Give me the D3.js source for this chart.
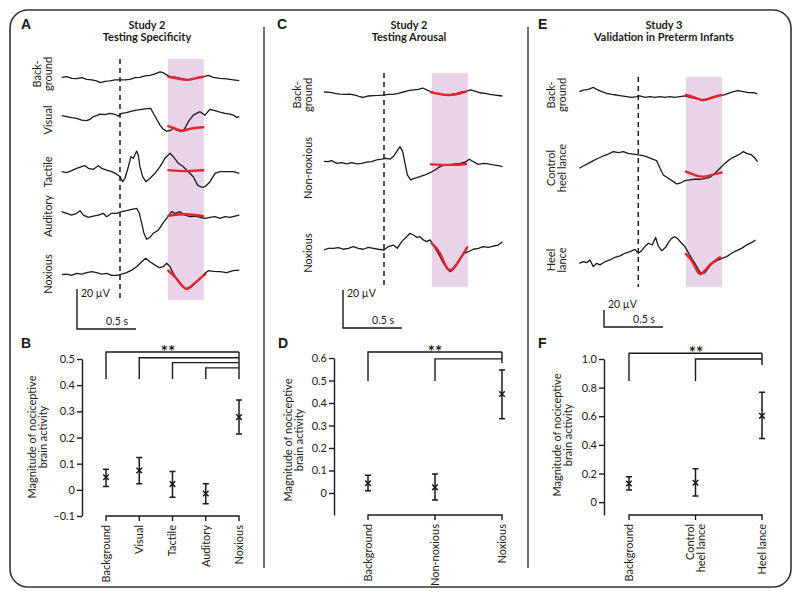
<!DOCTYPE html>
<html>
<head>
<meta charset="utf-8">
<script src="https://cdn.jsdelivr.net/npm/d3@7"></script>
<style>
  body { margin: 0; background: #fff; }
  svg { font-family: Lato, "Open Sans", sans-serif; }
</style>
</head>
<body>
<svg id="fig" width="800" height="597"></svg>
<script>
// ---- EEG traces, [time ms, amplitude µV] ----
const traceA_bg = [[-494,0],[-452,0.3],[-410,-0.5],[-367,-0.7],[-325,-0.2],[-282,-1],[-240,-1.3],[-198,-1.8],[-169,-2.7],[-127,-2],[-85,-1.8],[-42,-1.3],[0,-1.3],[42,-1.3],[85,-1],[127,-0.2],[169,0],[212,0.7],[254,1],[297,1.7],[339,2.7],[367,2.3],[395,1.2],[424,0.3],[480,0],[537,-0.8],[579,-1.3],[621,-0.7],[678,0],[712,0.3],[749,1],[791,0],[847,-0.5],[904,-0.8],[960,-1.3],[1011,-1.7]];
const traceA_visual = [[-494,0],[-452,-0.5],[-410,-1],[-367,-1.3],[-325,-2.2],[-282,-2.5],[-254,-1.8],[-226,-0.5],[-198,0],[-169,0.8],[-127,0.5],[-85,1.2],[-42,0.7],[-14,-0.2],[14,1.2],[56,1.5],[99,2.3],[141,2.8],[184,3.2],[226,3.5],[260,3.7],[282,1.2],[311,-1.8],[339,-4.7],[367,-6.8],[395,-7.7],[424,-7.5],[452,-6.3],[480,-7.2],[523,-8],[551,-6.3],[579,-3],[621,0.3],[678,2],[720,0.3],[763,3.2],[805,2.5],[847,1.8],[890,1.2],[932,0.8],[960,0.3],[989,-0.8],[1011,-0.5]];
const traceA_tactile = [[-494,0],[-452,-0.5],[-410,0.5],[-367,1.7],[-325,2.5],[-297,3],[-268,1.7],[-226,1.2],[-184,3],[-155,1.7],[-113,0.8],[-71,0],[-28,-1.2],[0,-2.5],[23,-5],[42,-3.3],[71,2.5],[93,7.5],[113,6.7],[141,10.3],[155,8.3],[169,2.5],[192,-2.5],[220,-5],[254,-3.3],[297,-0.8],[339,2.5],[381,6.7],[424,9.2],[452,7.5],[494,4.2],[537,2.5],[579,0],[621,-2.5],[658,-6.7],[692,-7.8],[720,-7.5],[763,-5],[805,-0.8],[847,0],[904,0],[960,0],[1011,-0.8]];
const traceA_auditory = [[-494,0],[-452,-0.8],[-410,-1.7],[-367,-0.8],[-339,0.5],[-311,-1.7],[-268,-2.8],[-226,-2.2],[-184,-1.7],[-141,-0.8],[-113,-2.5],[-71,-0.8],[-28,-0.8],[14,0],[56,0.5],[99,1.2],[141,1.7],[164,-0.8],[184,-5.8],[203,-10.8],[226,-13.8],[254,-12.8],[282,-10.8],[325,-9.2],[367,-5.5],[410,-2.2],[438,0],[466,-0.8],[508,0],[551,-1.7],[593,-2.5],[636,-2.2],[678,-2.8],[720,-3.3],[763,-2.8],[805,-2.5],[847,-3.3],[890,-2.5],[932,-2.8],[975,-2.2],[1011,-1.7]];
const traceA_noxious = [[-494,0],[-452,0.3],[-410,-0.3],[-367,0.7],[-325,0.3],[-282,1],[-240,1.5],[-198,1],[-155,0.3],[-113,0.7],[-71,-0.3],[-28,-0.3],[14,0.3],[56,1],[99,2.3],[141,4],[184,6.5],[218,8.2],[254,6.5],[297,4.8],[333,3.5],[367,4],[395,5.7],[424,4],[452,0.7],[494,-3.5],[537,-6.3],[565,-7.3],[607,-6],[650,-3.5],[692,-1],[720,0.7],[749,2],[791,1.7],[847,1.5],[904,1],[960,2],[1011,2.3]];

const traceC_bg = [[-508,0],[-458,-0.2],[-415,-0.7],[-373,-1.1],[-331,-1.2],[-288,-1.1],[-246,-1.6],[-203,-2.5],[-175,-2.8],[-133,-2.1],[-90,-1.9],[-48,-1.8],[-6,-1.6],[37,-1.2],[79,-1.2],[121,-0.7],[164,0],[206,0.7],[249,1.1],[291,1.4],[328,2.1],[362,1.1],[404,0],[446,-0.7],[489,-1.4],[531,-1.6],[573,-1.2],[616,-0.7],[658,0],[701,0.5],[734,1.1],[771,0.4],[814,-0.4],[856,-0.7],[898,-1.2],[941,-1.6],[1003,-2.1]];
const traceC_nonnox = [[-508,0],[-472,-0.2],[-444,0.4],[-401,-1.1],[-359,-0.7],[-316,-1.4],[-274,-0.7],[-232,-1.4],[-189,-1.1],[-147,-0.4],[-105,-0.2],[-62,0.7],[-20,1.1],[17,1.6],[51,1.1],[79,2.5],[107,5.1],[136,7.7],[158,5.1],[178,-1.1],[198,-7.2],[226,-9.8],[263,-8.9],[305,-8.1],[347,-7.2],[390,-6],[432,-4.6],[475,-2.8],[517,-1.9],[559,-1.9],[602,-1.4],[644,-1.1],[686,-0.5],[723,1.1],[757,-0.2],[799,-1.6],[842,-1.1],[884,-1.4],[927,-1.9],[969,-2.3],[1003,-2.8]];
const traceC_noxious = [[-508,0],[-472,0.9],[-429,0.9],[-387,1.2],[-345,0.4],[-302,0.9],[-260,1.8],[-218,0.9],[-175,0.4],[-133,1.4],[-90,0.9],[-48,0.4],[0,0],[37,1.8],[79,2.6],[113,0.9],[150,4.4],[192,7],[220,8.8],[249,7.9],[277,6.7],[305,7],[333,5.3],[362,4.4],[390,5.3],[418,2.6],[460,-1.8],[497,-6.1],[531,-9.6],[559,-11.4],[588,-10.2],[616,-7.9],[644,-4.4],[678,-1.8],[715,-0.9],[757,0.4],[799,0.9],[842,1.8],[884,1.4],[927,2.1],[969,2.6],[1003,4.4]];

const traceE_bg = [[-500,0],[-466,1.9],[-424,2.7],[-381,5.0],[-353,2.7],[-311,0],[-268,-1.9],[-226,-3.1],[-184,-3.9],[-141,-5.0],[-99,-5.8],[-56,-6.7],[-14,-5.8],[14,-5.0],[56,-6.7],[99,-5.8],[141,-6.7],[184,-5.8],[226,-6.7],[268,-5.8],[311,-6.7],[353,-5.8],[395,-5.0],[438,-6.7],[480,-7.9],[523,-9.1],[551,-10.6],[593,-9.1],[636,-6.7],[678,-5.0],[720,-3.9],[763,-1.9],[805,0],[847,1.2],[890,0],[932,-1.2],[975,-1.2],[1011,-2.7]];
const traceE_control = [[-500,0],[-466,2.7],[-424,5.8],[-381,9.1],[-339,11.8],[-297,14.5],[-254,16.8],[-212,19.7],[-169,18.4],[-127,19.7],[-85,17.6],[-42,16.8],[0,15.7],[42,14.9],[85,12.9],[127,10.6],[155,9.1],[184,0],[212,-7.9],[254,-11.8],[297,-15.7],[325,-18.4],[353,-17.6],[395,-14.5],[438,-13.7],[480,-12.9],[523,-12.9],[565,-11.8],[607,-10.6],[650,-5.8],[692,0],[734,5.8],[777,10.6],[819,13.7],[862,16.8],[890,19.7],[918,17.6],[960,15.7],[989,11.8],[1011,7.9]];
const traceE_heel = [[-500,0],[-466,1.9],[-438,0.8],[-410,3.9],[-381,-3.9],[-353,0],[-325,-1.9],[-282,1.9],[-240,3.9],[-198,7.1],[-155,8.7],[-113,11.8],[-71,13.7],[-28,16.4],[0,11.8],[28,14.9],[56,19.7],[85,23.6],[119,21.6],[147,30.5],[169,20.4],[198,14.9],[232,18.8],[260,25.5],[282,29.4],[311,31.3],[339,28.2],[367,23.6],[395,19.7],[424,12.6],[452,5.8],[480,0],[508,-7.1],[537,-12.6],[565,-11.0],[593,-5.8],[621,-0.8],[664,3.1],[706,5.8],[749,7.9],[791,11.8],[833,14.9],[876,17.6],[918,21.6],[960,24.3],[994,27.4]];

// ---- template fits inside the nociceptive window ----
const fitA_bg = [[410,0.3],[490,-0.6],[565,-1.3],[640,-0.5],[706,0.3]];
const fitA_visual = [[410,-5.2],[470,-6.5],[525,-7.5],[590,-6.6],[650,-6.0],[706,-5.8]];
const fitA_tactile = [[410,0.8],[560,0.3],[706,0.7]];
const fitA_auditory = [[410,-2.0],[560,-1.3],[706,-2.2]];
const fitA_noxious = [[410,2],[480,-2],[550,-6.8],[610,-5.5],[680,-1.8],[725,0.3]];
const fitC_bg = [[398,-0.2],[480,-1.1],[560,-1.6],[640,-0.8],[695,0.2]];
const fitC_nonnox = [[398,-1.6],[560,-1.9],[695,-1.4]];
const fitC_noxious = [[404,3.5],[475,-1.8],[545,-10.2],[620,-7],[706,1.4]];
const fitE_bg = [[404,-3.9],[480,-7.1],[545,-9.8],[620,-7.1],[706,-3.9]];
const fitE_control = [[404,-3.9],[480,-7.9],[550,-9.8],[620,-7.8],[706,-5.0]];
const fitE_heel = [[404,11.0],[466,0],[523,-12.6],[593,-3.9],[692,7.1]];

const windowMs = [405, 710];

// ---- group means with error bars ----
const catsB = ["Background", "Visual", "Tactile", "Auditory", "Noxious"];
const meanB = [0.048, 0.074, 0.022, -0.014, 0.278];
const loB   = [0.013, 0.023, -0.028, -0.053, 0.213];
const hiB   = [0.079, 0.124, 0.07, 0.023, 0.343];
const ticksB = [-0.1, 0, 0.1, 0.2, 0.3, 0.4, 0.5];

const catsD = ["Background", "Non-noxious", "Noxious"];
const meanD = [0.043, 0.025, 0.44];
const loD   = [0.01, -0.031, 0.33];
const hiD   = [0.079, 0.084, 0.547];
const ticksD = [0, 0.1, 0.2, 0.3, 0.4, 0.5, 0.6];

const catsF = [["Background"], ["Control", "heel lance"], ["Heel lance"]];
const meanF = [0.13, 0.135, 0.603];
const loF   = [0.084, 0.042, 0.445];
const hiF   = [0.177, 0.233, 0.767];
const ticksF = [0, 0.2, 0.4, 0.6, 0.8, 1.0];

const svg = d3.select('#fig');
const INK = '#1a1a1a';

// outer frame + dividers
svg.append('rect').attr('x', 10).attr('y', 10).attr('width', 781).attr('height', 577)
  .attr('rx', 18).attr('fill', 'none').attr('stroke', '#333').attr('stroke-width', 1.6);
[264, 528].forEach(x => svg.append('line').attr('x1', x).attr('x2', x).attr('y1', 27).attr('y2', 568)
  .attr('stroke', '#333').attr('stroke-width', 1.4));

const topPanels = [
  { letter: 'A', lx: 21, title: ['Study 2', 'Testing Specificity'], tx: 147, x0: 120, k: 2.0, band: [59, 300],
    labelX: 48, bar: { x: 77, y: 329, dy: 8 },
    rows: [
      { label: ['Back-', 'ground'], ly: 74, y: 77.3, data: traceA_bg, fit: fitA_bg },
      { label: ['Visual'], ly: 120, y: 115.7, data: traceA_visual, fit: fitA_visual },
      { label: ['Tactile'], ly: 172, y: 171.7, data: traceA_tactile, fit: fitA_tactile },
      { label: ['Auditory'], ly: 216, y: 211.7, data: traceA_auditory, fit: fitA_auditory },
      { label: ['Noxious'], ly: 274, y: 274.7, data: traceA_noxious, fit: fitA_noxious }
    ] },
  { letter: 'C', lx: 277, title: ['Study 2', 'Testing Arousal'], tx: 409, x0: 384, k: 1.9, band: [73, 287],
    labelX: 308, bar: { x: 343, y: 328, dy: 7 },
    rows: [
      { label: ['Back-', 'ground'], ly: 95, y: 92, data: traceC_bg, fit: fitC_bg },
      { label: ['Non-noxious'], ly: 168, y: 161.3, data: traceC_nonnox, fit: fitC_nonnox },
      { label: ['Noxious'], ly: 253, y: 250, data: traceC_noxious, fit: fitC_noxious }
    ] },
  { letter: 'E', lx: 538, title: ['Study 3', 'Validation in Preterm Infants'], tx: 664, x0: 638.3, k: 0.85, band: [77, 287],
    labelX: 562, bar: { x: 604, y: 327, dy: -2 },
    rows: [
      { label: ['Back-', 'ground'], ly: 95, y: 91.7, data: traceE_bg, fit: fitE_bg },
      { label: ['Control', 'heel lance'], ly: 168, y: 168.3, data: traceE_control, fit: fitE_control },
      { label: ['Heel', 'lance'], ly: 260, y: 263.3, data: traceE_heel, fit: fitE_heel }
    ] }
];

function panelLetter(txt, x, y) {
  svg.append('text').attr('x', x).attr('y', y).attr('font-family', 'Liberation Sans, Arial, sans-serif')
    .attr('font-size', '14px').attr('font-weight', 'bold').attr('fill', INK).text(txt);
}

function rotLabel(lines, cx, cy, size) {
  const n = lines.length;
  lines.forEach((s, i) => {
    svg.append('text')
      .attr('transform', `translate(${cx - (n - 1 - i) * 10.5},${cy}) rotate(-90)`)
      .attr('text-anchor', 'middle').attr('dy', '0.35em')
      .attr('font-size', size).attr('fill', INK).text(s);
  });
}

function renderTraces(p) {
  panelLetter(p.letter, p.lx, 29);
  svg.append('text').attr('x', p.tx).attr('y', 29).attr('text-anchor', 'middle')
    .attr('font-size', '11px').attr('font-weight', 'bold').attr('fill', INK).text(p.title[0]);
  svg.append('text').attr('x', p.tx).attr('y', 41).attr('text-anchor', 'middle')
    .attr('font-size', '11px').attr('font-weight', 'bold').attr('fill', INK).text(p.title[1]);

  const x = d3.scaleLinear().domain([0, 1000]).range([p.x0, p.x0 + 118]);

  svg.append('rect').attr('x', x(windowMs[0])).attr('y', p.band[0])
    .attr('width', x(windowMs[1]) - x(windowMs[0])).attr('height', p.band[1] - p.band[0])
    .attr('fill', '#e8d3e9');

  svg.append('line').attr('x1', x(0)).attr('x2', x(0)).attr('y1', p.band[0]).attr('y2', p.band[1])
    .attr('stroke', INK).attr('stroke-width', 1.5).attr('stroke-dasharray', '5,4');

  p.rows.forEach(r => {
    const y = d3.scaleLinear().domain([0, 1]).range([r.y, r.y - p.k]);
    const line = d3.line().x(d => x(d[0])).y(d => y(d[1]));
    svg.append('path').datum(r.data).attr('d', line)
      .attr('fill', 'none').attr('stroke', INK).attr('stroke-width', 1.3).attr('stroke-linejoin', 'round');
    svg.append('path').datum(r.fit).attr('d', line.curve(d3.curveNatural))
      .attr('fill', 'none').attr('stroke', '#e5242b').attr('stroke-width', 2.4).attr('stroke-linecap', 'round');
    rotLabel(r.label, p.labelX, r.ly, '11px');
  });

  // scale bars: 20 µV and 0.5 s
  const bx = p.bar.x, by = p.bar.y, h = 20 * p.k, w = x(500) - x(0);
  svg.append('path').attr('d', `M${bx},${by - h}V${by}H${bx + w}`)
    .attr('fill', 'none').attr('stroke', INK).attr('stroke-width', 1.4);
  svg.append('text').attr('x', bx + 4).attr('y', by - h + p.bar.dy).attr('font-size', '10.5px').attr('fill', INK).text('20 µV');
  svg.append('text').attr('x', bx + w - 8).attr('y', by - 4).attr('text-anchor', 'end')
    .attr('font-size', '10.5px').attr('fill', INK).text('0.5 s');
}

topPanels.forEach(renderTraces);

const bottomPanels = [
  { letter: 'B', lx: 21, axisX: 82, domain: [-0.1, 0.5], range: [516, 359], ticks: ticksB, fmt: d3.format('.1f'),
    cats: catsB.map(c => [c]), catRange: [106, 239], mean: meanB, lo: loB, hi: hiB, ylabX: 43, ylabY: 437,
    sig: { levels: [0.527, 0.505, 0.486, 0.466], bottom: 0.424, rightBottom: 0.424, star: 168 } },
  { letter: 'D', lx: 278, axisX: 334, domain: [-0.098, 0.6], range: [515, 358], ticks: ticksD, fmt: d3.format('.1f'),
    cats: catsD.map(c => [c]), catRange: [368, 502], mean: meanD, lo: loD, hi: hiD, ylabX: 299, ylabY: 440,
    sig: { levels: [0.627, 0.596], bottom: 0.498, rightBottom: 0.578, star: 435 } },
  { letter: 'F', lx: 538, axisX: 604, domain: [-0.09, 1.0], range: [515, 359], ticks: ticksF, fmt: d3.format('.1f'),
    cats: catsF, catRange: [629, 762], mean: meanF, lo: loF, hi: hiF, ylabX: 568, ylabY: 435,
    sig: { levels: [1.04, 1.0], bottom: 0.846, rightBottom: 0.958, star: 696 } }
];

function renderMeans(p) {
  panelLetter(p.letter, p.lx, 348);
  const y = d3.scaleLinear().domain(p.domain).range(p.range);
  const x = d3.scalePoint().domain(d3.range(p.cats.length)).range(p.catRange);

  const ax = svg.append('g').attr('transform', `translate(${p.axisX},0)`)
    .call(d3.axisLeft(y).tickValues(p.ticks).tickSize(5).tickSizeOuter(0)
      .tickFormat(d => d === 0 ? '0' : p.fmt(d)));
  ax.select('.domain').attr('stroke', INK).attr('stroke-width', 1.4);
  ax.selectAll('.tick line').attr('stroke', INK).attr('stroke-width', 1.4);
  ax.selectAll('.tick text').attr('font-family', 'Lato, sans-serif').attr('font-size', '11px').attr('fill', INK).attr('x', -7);

  rotLabel(['Magnitude of nociceptive', 'brain activity'], p.ylabX, p.ylabY, '11px');

  // category bracket
  const xs = p.cats.map((c, i) => x(i));
  const yb = p.range[0];
  let dpath = `M${xs[0]},${yb + 5}V${yb}H${xs[xs.length - 1]}V${yb + 5}`;
  xs.slice(1, -1).forEach(v => { dpath += `M${v},${yb}V${yb + 5}`; });
  svg.append('path').attr('d', dpath).attr('fill', 'none').attr('stroke', INK).attr('stroke-width', 1.4);

  p.cats.forEach((lines, i) => {
    const n = lines.length;
    lines.forEach((s, j) => {
      svg.append('text')
        .attr('transform', `translate(${xs[i] + (j - (n - 1) / 2) * 10.5},${yb + 9}) rotate(-90)`)
        .attr('text-anchor', 'end').attr('dy', '0.35em')
        .attr('font-size', '11px').attr('fill', INK).text(s);
    });
  });

  // significance brackets
  const last = xs[xs.length - 1];
  let sp = `M${last},${y(p.sig.levels[0])}V${y(p.sig.rightBottom)}`;
  p.sig.levels.forEach((lv, i) => {
    sp += `M${xs[i]},${y(p.sig.bottom)}V${y(lv)}H${last}`;
  });
  svg.append('path').attr('d', sp).attr('fill', 'none').attr('stroke', INK).attr('stroke-width', 1.4);
  svg.append('text').attr('x', p.sig.star).attr('y', y(p.sig.levels[0]) + 6).attr('text-anchor', 'middle')
    .attr('font-size', '17px').attr('font-weight', 'bold').attr('fill', INK).text('**');

  // error bars + markers
  const g = svg.append('g');
  p.mean.forEach((m, i) => {
    const cx = xs[i];
    g.append('path').attr('d', `M${cx - 3},${y(p.hi[i])}H${cx + 3}M${cx},${y(p.hi[i])}V${y(p.lo[i])}M${cx - 3},${y(p.lo[i])}H${cx + 3}`)
      .attr('fill', 'none').attr('stroke', INK).attr('stroke-width', 1.5);
    g.append('path').attr('transform', `translate(${cx},${y(m)})`)
      .attr('d', d3.symbol(d3.symbolTimes, 22)())
      .attr('fill', 'none').attr('stroke', INK).attr('stroke-width', 1.5);
  });
}

bottomPanels.forEach(renderMeans);
</script>
</body>
</html>
